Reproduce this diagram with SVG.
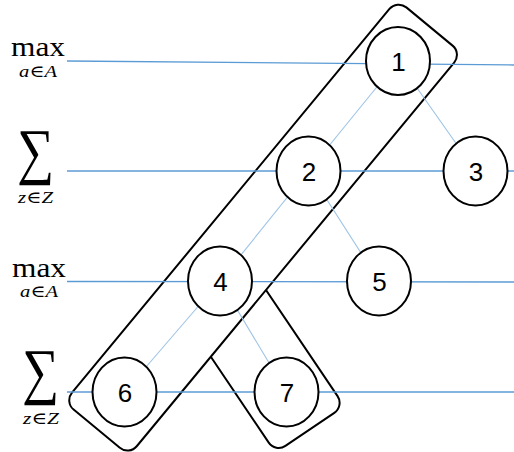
<svg xmlns="http://www.w3.org/2000/svg" width="514" height="452" viewBox="0 0 514 452">
  <style>
    .box { fill: #ffffff; stroke: #000000; stroke-width: 2; }
    .level { stroke: #5b9bd5; stroke-width: 1.3; fill: none; }
    .edge { stroke: #9dc3e6; stroke-width: 1.1; fill: none; }
    .node ellipse { fill: #ffffff; stroke: #000000; stroke-width: 2; }
    .node text { font-family: "Liberation Sans", "DejaVu Sans", sans-serif; font-size: 26px; fill: #000000; text-anchor: middle; }
    .op { font-family: "Liberation Serif", "DejaVu Serif", serif; fill: #000000; }
    .sub { font-family: "Liberation Serif", "DejaVu Serif", serif; font-style: italic; font-size: 17px; fill: #000000; }
  </style>

  <!-- operator labels for each level -->
  <g id="labels">
    <text class="op" x="11" y="56" font-size="27" textLength="54" lengthAdjust="spacingAndGlyphs">max</text>
    <text class="sub" x="19" y="77" textLength="38" lengthAdjust="spacingAndGlyphs">a∈A</text>
    <text class="op" x="17" y="172" font-size="62" textLength="37" lengthAdjust="spacingAndGlyphs">∑</text>
    <text class="sub" x="18" y="203" textLength="35" lengthAdjust="spacingAndGlyphs">z∈Z</text>
    <text class="op" x="12" y="277" font-size="27" textLength="54" lengthAdjust="spacingAndGlyphs">max</text>
    <text class="sub" x="20" y="297" textLength="38" lengthAdjust="spacingAndGlyphs">a∈A</text>
    <text class="op" x="22" y="392" font-size="62" textLength="37" lengthAdjust="spacingAndGlyphs">∑</text>
    <text class="sub" x="23" y="424" textLength="36" lengthAdjust="spacingAndGlyphs">z∈Z</text>
  </g>

  <!-- grouping boxes: the short box sits under the long one -->
  <g id="box-7">
    <rect class="box" x="-130" y="-40" width="174" height="83" rx="12" transform="translate(286.5 392) rotate(56)"/>
  </g>
  <g id="box-1-2-4-6">
    <rect class="box" x="-46" y="-40" width="522" height="84" rx="12" transform="translate(124.5 392) rotate(-50.4)"/>
  </g>

  <g id="connectors">
    <!-- level lines -->
    <line class="level" x1="67" y1="61" x2="514" y2="65"/>
    <line class="level" x1="67" y1="171" x2="514" y2="171"/>
    <line class="level" x1="67" y1="281.5" x2="514" y2="282"/>
    <line class="level" x1="67" y1="392" x2="514" y2="392"/>
    <!-- tree edges -->
    <line class="edge" x1="398" y1="61" x2="308.5" y2="171"/>
    <line class="edge" x1="398" y1="61" x2="475.5" y2="171"/>
    <line class="edge" x1="308.5" y1="171" x2="220" y2="281"/>
    <line class="edge" x1="308.5" y1="171" x2="379" y2="281"/>
    <line class="edge" x1="220" y1="281" x2="124.5" y2="392"/>
    <line class="edge" x1="220" y1="281" x2="286.5" y2="392"/>
  </g>

  <g id="node-1" class="node"><ellipse cx="398" cy="61" rx="32" ry="34"/><text x="398.5" y="71">1</text></g>
  <g id="node-2" class="node"><ellipse cx="308.5" cy="171" rx="32" ry="34.5"/><text x="309" y="181">2</text></g>
  <g id="node-3" class="node"><ellipse cx="475.5" cy="171" rx="32" ry="34.5"/><text x="476" y="181">3</text></g>
  <g id="node-4" class="node"><ellipse cx="220" cy="281" rx="32" ry="34.5"/><text x="220.5" y="291">4</text></g>
  <g id="node-5" class="node"><ellipse cx="379" cy="281" rx="32" ry="34.5"/><text x="379.5" y="291">5</text></g>
  <g id="node-6" class="node"><ellipse cx="124.5" cy="392" rx="32" ry="34.5"/><text x="125" y="402">6</text></g>
  <g id="node-7" class="node"><ellipse cx="286.5" cy="392" rx="32" ry="34.5"/><text x="287" y="402">7</text></g>
</svg>
